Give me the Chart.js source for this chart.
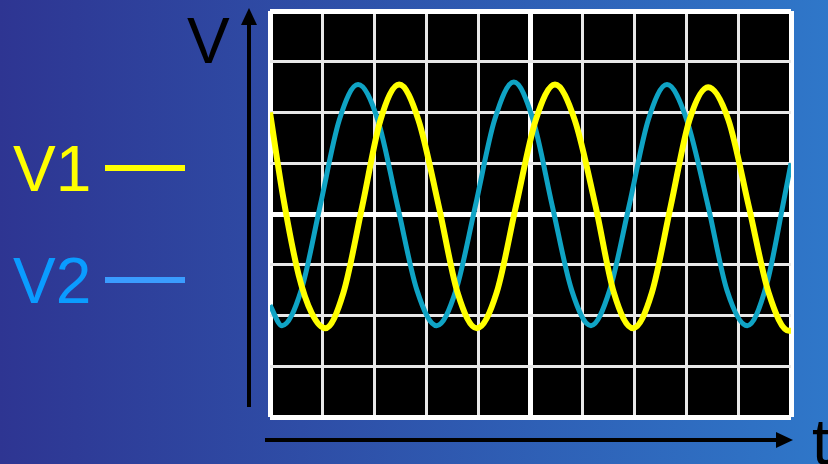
<!DOCTYPE html>
<html lang="en">
<head>
  <meta charset="UTF-8">
  <title>V1 / V2</title>
  <script src="https://cdn.jsdelivr.net/npm/chart.js"></script>
  <style>
    body { margin: 0; }
    #wrap {
      position: relative; width: 828px; height: 464px; overflow: hidden;
      background: linear-gradient(to right, #2e3592, #2f77c9);
      font-family: "Liberation Sans", Arial, sans-serif;
    }
    #wrap canvas { position: absolute; left: 0; top: 0; }
    .lbl { position: absolute; font-size: 64px; line-height: 64px; white-space: nowrap; }
    .key { position: absolute; height: 6px; width: 80px; left: 105px; }
  </style>
</head>
<body>
  <div id="wrap">
    <canvas id="myChart" width="828" height="464"></canvas>
    <div class="lbl" style="left:187px; top:9px; color:#000;">V</div>
    <div class="lbl" style="left:812px; top:410px; color:#000;">t</div>
    <div id="legend"></div>
  </div>

  <script>
    // time in divisions, voltage in divisions
    const v1Time  = [0, 0.25, 0.55, 0.8, 1.06, 1.41, 1.77, 2.12, 2.48, 2.85, 3.24, 3.6, 3.97,
                     4.35, 4.72, 5.1, 5.47, 5.85, 6.25, 6.6, 6.97, 7.33, 7.69, 8.05, 8.41,
                     8.8, 9.19, 9.57, 9.96, 10];
    const v1Volts = [2.0, 0.35, -1.2, -1.95, -2.25, -1.55, 0.15, 1.85, 2.55, 1.85, 0.15, -1.55, -2.25,
                     -1.55, 0.15, 1.85, 2.55, 1.85, 0.15, -1.55, -2.25, -1.55, 0.15, 1.85, 2.5,
                     1.85, 0.15, -1.55, -2.3, -2.3];

    const v2Time  = [0, 0.23, 0.6, 0.96, 1.33, 1.69, 2.07, 2.45, 2.82, 3.2, 3.57, 3.94, 4.31, 4.68,
                     5.05, 5.42, 5.79, 6.16, 6.52, 6.89, 7.26, 7.62, 8.0, 8.41, 8.77, 9.16,
                     9.53, 9.85, 10];
    const v2Volts = [-1.8, -2.2, -1.5, 0.15, 1.85, 2.55, 1.85, 0.15, -1.5, -2.2, -1.5, 0.15, 1.85, 2.6,
                     1.85, 0.15, -1.5, -2.2, -1.5, 0.15, 1.85, 2.55, 1.85, 0.15, -1.5, -2.2,
                     -1.4, 0.2, 1.0];

    const seriesNames   = ["V1", "V2"];
    const traceColors   = ["#ffff00", "#0fa3c4"];
    const legendColors  = ["#ffff00", "#0a9cff"];
    const legendLines   = ["#ffff00", "#3a9cff"];

    // legend on the left
    const legend = document.getElementById("legend");
    seriesNames.forEach(function (name, i) {
      const top = [137, 249][i];
      legend.insertAdjacentHTML("beforeend",
        '<div class="lbl" style="left:13px; top:' + top + 'px; color:' + legendColors[i] + ';">' + name + '</div>' +
        '<div class="key" style="top:' + (top + 28) + 'px; background:' + legendLines[i] + ';"></div>');
    });

    function pairs(xs, ys) {
      return xs.map(function (x, i) { return { x: x, y: ys[i] }; });
    }

    // black screen + axis arrows
    const scopePlugin = {
      id: "scope",
      beforeDraw: function (chart) {
        const a = chart.chartArea, c = chart.ctx;
        c.save();
        c.fillStyle = "#000";
        c.fillRect(a.left, a.top, a.right - a.left, a.bottom - a.top);
        c.restore();
      },
      afterDraw: function (chart) {
        const c = chart.ctx;
        c.save();
        c.fillStyle = "#000";
        c.strokeStyle = "#000";
        c.lineWidth = 4;
        // vertical arrow
        c.beginPath(); c.moveTo(249, 407); c.lineTo(249, 22); c.stroke();
        c.beginPath(); c.moveTo(249, 8); c.lineTo(241, 25); c.lineTo(257, 25); c.closePath(); c.fill();
        // horizontal arrow
        c.beginPath(); c.moveTo(265, 440); c.lineTo(779, 440); c.stroke();
        c.beginPath(); c.moveTo(793, 440); c.lineTo(776, 432); c.lineTo(776, 448); c.closePath(); c.fill();
        c.restore();
      }
    };

    function gridWidth(ctx, mid, last) {
      const v = ctx.tick ? ctx.tick.value : null;
      if (v === mid) return 5;
      if (ctx.index === 0 || ctx.index === last) return 5;
      return 3;
    }
    function gridColor(ctx, mid, last) {
      const v = ctx.tick ? ctx.tick.value : null;
      if (v === mid || ctx.index === 0 || ctx.index === last) return "#ffffff";
      return "#e8e8e8";
    }

    function drawChart() {
      const ctx = document.getElementById("myChart").getContext("2d");
      new Chart(ctx, {
        type: "line",
        data: {
          datasets: [
            { label: seriesNames[0], data: pairs(v1Time, v1Volts), borderColor: traceColors[0],
              borderWidth: 6, pointRadius: 0, cubicInterpolationMode: "monotone" },
            { label: seriesNames[1], data: pairs(v2Time, v2Volts), borderColor: traceColors[1],
              borderWidth: 5, pointRadius: 0, cubicInterpolationMode: "monotone" }
          ]
        },
        options: {
          responsive: false,
          animation: false,
          layout: { padding: { left: 270, top: 11, right: 37, bottom: 47 } },
          plugins: { legend: { display: false }, tooltip: { enabled: false } },
          scales: {
            x: {
              type: "linear", min: 0, max: 10,
              ticks: { display: false, stepSize: 1 },
              border: { display: false },
              grid: { drawTicks: false,
                      lineWidth: function (c) { return gridWidth(c, 5, 10); },
                      color: function (c) { return gridColor(c, 5, 10); } },
              afterFit: function (s) { s.height = 0; }
            },
            y: {
              min: -4, max: 4,
              ticks: { display: false, stepSize: 1 },
              border: { display: false },
              grid: { drawTicks: false,
                      lineWidth: function (c) { return gridWidth(c, 0, 8); },
                      color: function (c) { return gridColor(c, 0, 8); } },
              afterFit: function (s) { s.width = 0; }
            }
          }
        },
        plugins: [scopePlugin]
      });
    }

    document.addEventListener("DOMContentLoaded", drawChart);
  </script>
</body>
</html>
